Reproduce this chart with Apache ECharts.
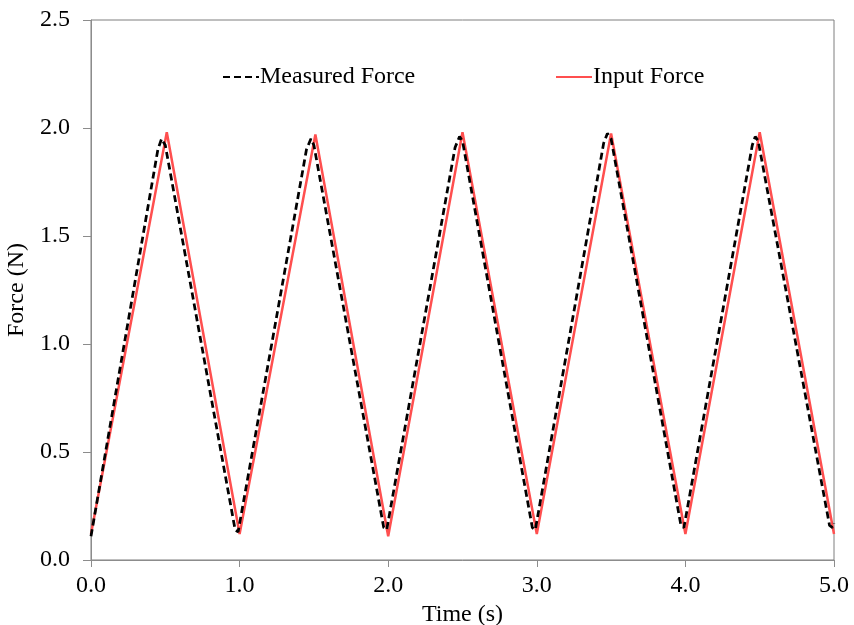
<!DOCTYPE html>
<html>
<head>
<meta charset="utf-8">
<script src="https://cdn.jsdelivr.net/npm/echarts@6/dist/echarts.min.js"></script>
<style>
  html, body { margin: 0; padding: 0; background: #fff; }
  #chart { width: 854px; height: 625px; }
</style>
</head>
<body>
<div id="chart"></div>
<script>
// Time (s) and force (N) samples for each series
const measuredTime  = [0.00, 0.45, 0.475, 0.50, 0.97, 0.99,
                       1.45, 1.48, 1.50, 1.97, 1.99,
                       2.45, 2.48, 2.50, 2.97, 2.99,
                       3.45, 3.475, 3.50, 3.97, 3.99,
                       4.45, 4.47, 4.49, 4.97, 4.99, 5.00];
const measuredForce = [0.11, 1.90, 1.95, 1.92, 0.14, 0.13,
                       1.90, 1.95, 1.92, 0.15, 0.14,
                       1.91, 1.96, 1.94, 0.15, 0.14,
                       1.93, 1.975, 1.95, 0.16, 0.15,
                       1.92, 1.96, 1.94, 0.16, 0.15, 0.17];

const inputTime  = [0.00, 0.51, 1.00, 1.51, 2.00, 2.50, 3.00, 3.50, 4.00, 4.50, 5.00];
const inputForce = [0.12, 1.98, 0.12, 1.97, 0.11, 1.98, 0.12, 1.975, 0.12, 1.98, 0.12];

const xTicks = [0, 1, 2, 3, 4, 5];
const yTicks = [0, 0.5, 1.0, 1.5, 2.0, 2.5];

const pairs = (xs, ys) => xs.map((x, i) => [x, ys[i]]);

const font = '"Liberation Serif", "Times New Roman", serif';
const chart = echarts.init(document.getElementById('chart'), null, { renderer: 'canvas' });

const legendBase = {
  top: 60,
  itemWidth: 36, itemHeight: 14,
  itemStyle: { opacity: 0 },
  textStyle: { fontFamily: font, fontSize: 24, color: '#000', padding: [0, 0, 0, -4] }
};

chart.setOption({
  backgroundColor: '#ffffff',
  animation: false,
  textStyle: { fontFamily: font, color: '#000' },
  grid: {
    left: 91, right: 20, top: 20, bottom: 65,
    outerBoundsMode: 'none',
    containLabel: false,
    show: true, borderColor: '#7f7f7f', borderWidth: 1
  },
  legend: [
    Object.assign({}, legendBase, { left: 217, data: ['Measured Force'] }),
    Object.assign({}, legendBase, { left: 550, data: ['Input Force'] })
  ],
  xAxis: {
    type: 'value',
    min: 0, max: 5, interval: 1,
    name: 'Time (s)', nameLocation: 'middle', nameGap: 32,
    nameTextStyle: { fontFamily: font, fontSize: 24, color: '#000' },
    axisLine: { show: true, lineStyle: { color: '#8c8c8c', width: 1 } },
    axisTick: { show: true, inside: false, length: 7, lineStyle: { color: '#8c8c8c' } },
    axisLabel: {
      fontFamily: font, fontSize: 24, color: '#000', margin: 14,
      formatter: v => xTicks.includes(v) ? v.toFixed(1) : ''
    },
    splitLine: { show: false }
  },
  yAxis: {
    type: 'value',
    min: 0, max: 2.5, interval: 0.5,
    name: 'Force (N)', nameLocation: 'middle', nameGap: 55, nameRotate: 90,
    nameTextStyle: { fontFamily: font, fontSize: 24, color: '#000' },
    axisLine: { show: true, lineStyle: { color: '#8c8c8c', width: 1 } },
    axisTick: { show: true, inside: false, length: 8, lineStyle: { color: '#8c8c8c' } },
    axisLabel: {
      fontFamily: font, fontSize: 24, color: '#000', margin: 21,
      formatter: v => yTicks.includes(v) ? v.toFixed(1) : ''
    },
    splitLine: { show: false }
  },
  series: [
    {
      name: 'Measured Force',
      type: 'line',
      data: pairs(measuredTime, measuredForce),
      symbol: 'none',
      lineStyle: { color: '#000000', width: 2.75, type: [7, 4] },
      itemStyle: { color: '#000000' },
      z: 3
    },
    {
      name: 'Input Force',
      type: 'line',
      data: pairs(inputTime, inputForce),
      symbol: 'none',
      lineStyle: { color: '#ff4f4f', width: 2.5 },
      itemStyle: { color: '#ff4f4f' },
      z: 2
    }
  ]
});
</script>
</body>
</html>
